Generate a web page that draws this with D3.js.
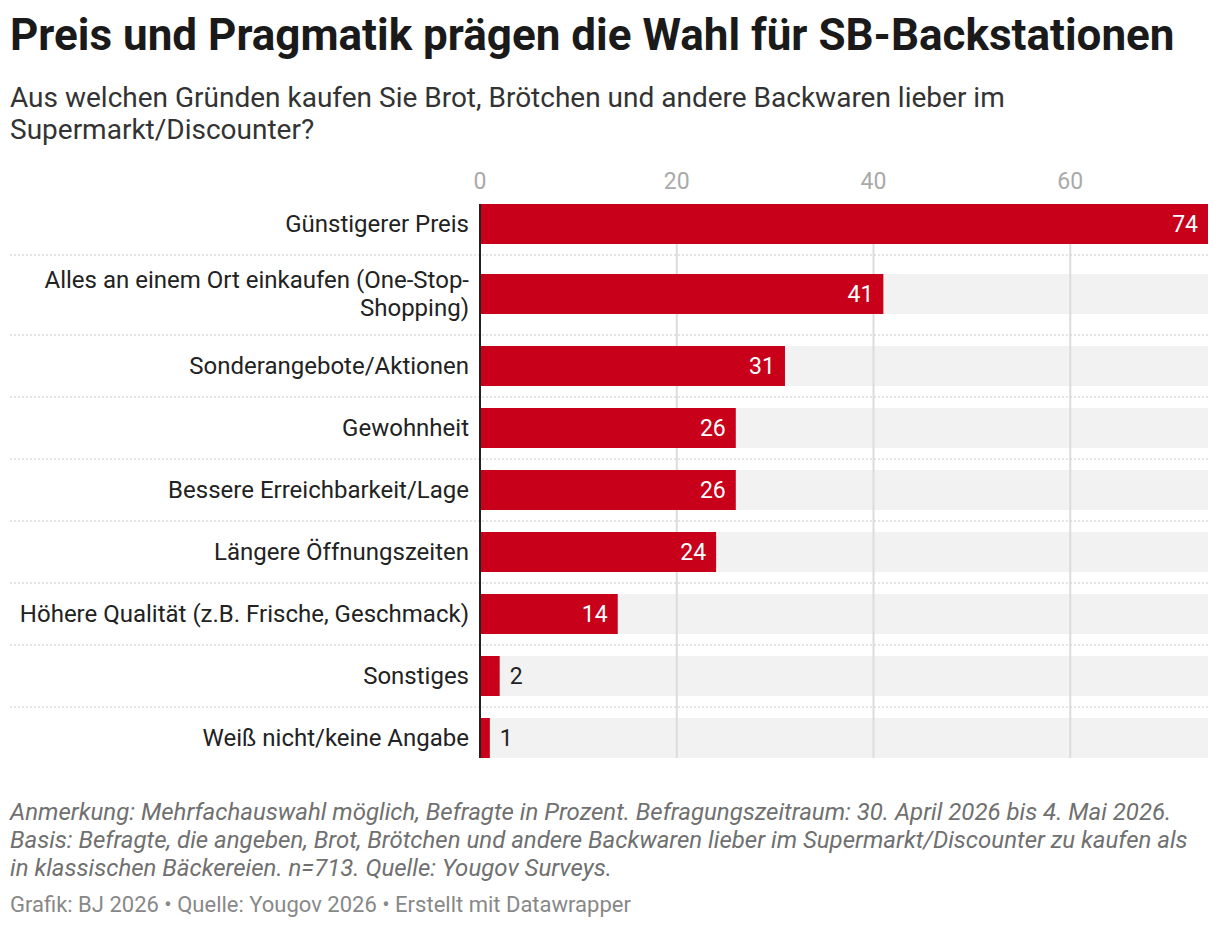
<html>
<head>
<script src="https://d3js.org/d3.v7.min.js"></script>
<style>
body { margin: 0; background: #fff; font-family: Roboto, sans-serif; }
</style>
</head>
<body>
<svg width="1220" height="928"></svg>
<script>
var categories = [
  ["Günstigerer Preis"],
  ["Alles an einem Ort einkaufen (One-Stop-", "Shopping)"],
  ["Sonderangebote/Aktionen"],
  ["Gewohnheit"],
  ["Bessere Erreichbarkeit/Lage"],
  ["Längere Öffnungszeiten"],
  ["Höhere Qualität (z.B. Frische, Geschmack)"],
  ["Sonstiges"],
  ["Weiß nicht/keine Angabe"]
];
var values = [74, 41, 31, 26, 26, 24, 14, 2, 1];
var ticks = [0, 20, 40, 60];

var svg = d3.select("svg");
var x = d3.scaleLinear().domain([0, 74]).range([480, 1208]);

// bar tops, two-line rows get extra room
var tops = [];
var t = 204;
categories.forEach(function(c, i) {
  if (i > 0) t += 62 + (c.length > 1 ? 8 : 0) + (categories[i-1].length > 1 ? 10 : 0);
  tops.push(t);
});
var bh = 40;

svg.append("text").attr("x", 10).attr("y", 50).attr("font-size", 44).attr("font-weight", 700)
  .attr("fill", "#1a1a1a").text("Preis und Pragmatik prägen die Wahl für SB-Backstationen");
svg.append("text").attr("x", 10).attr("y", 107).attr("font-size", 28).attr("fill", "#333")
  .text("Aus welchen Gründen kaufen Sie Brot, Brötchen und andere Backwaren lieber im");
svg.append("text").attr("x", 10).attr("y", 139).attr("font-size", 28).attr("fill", "#333")
  .text("Supermarkt/Discounter?");

// background bars
svg.selectAll("rect.bg").data(values).enter().append("rect").attr("class", "bg")
  .attr("x", x(0)).attr("y", (d, i) => tops[i]).attr("width", x(74) - x(0)).attr("height", bh)
  .attr("fill", "#f2f2f2");

// grid
svg.selectAll("line.grid").data(ticks.slice(1)).enter().append("line")
  .attr("x1", d => x(d)).attr("x2", d => x(d)).attr("y1", 204).attr("y2", tops[8] + bh)
  .attr("stroke", "#dcdcdc").attr("stroke-width", 2);

svg.selectAll("text.tick").data(ticks).enter().append("text")
  .attr("x", d => x(d)).attr("y", 189).attr("text-anchor", "middle")
  .attr("font-size", 23).attr("fill", "#aaa").text(d => d);

// separators
svg.selectAll("line.sep").data(tops.slice(1)).enter().append("line")
  .attr("x1", 10).attr("x2", 1208)
  .attr("y1", (d, i) => d - (categories[i+1].length > 1 ? 19 : 11))
  .attr("y2", (d, i) => d - (categories[i+1].length > 1 ? 19 : 11))
  .attr("stroke", "#ccc").attr("stroke-dasharray", "2,2");

svg.selectAll("rect.bar").data(values).enter().append("rect")
  .attr("x", x(0)).attr("y", (d, i) => tops[i]).attr("width", d => x(d) - x(0)).attr("height", bh)
  .attr("fill", "#c8001a");

svg.append("line").attr("x1", x(0)).attr("x2", x(0)).attr("y1", 204).attr("y2", tops[8] + bh)
  .attr("stroke", "#222").attr("stroke-width", 2);

// labels
categories.forEach(function(c, i) {
  var cy = tops[i] + bh / 2;
  c.forEach(function(line, j) {
    svg.append("text").attr("x", 469).attr("y", cy + 8 + (j - (c.length - 1) / 2) * 28)
      .attr("text-anchor", "end").attr("font-size", 24).attr("fill", "#222").text(line);
  });
});

svg.selectAll("text.val").data(values).enter().append("text")
  .attr("x", d => d > 5 ? x(d) - 10 : x(d) + 10)
  .attr("y", (d, i) => tops[i] + bh / 2 + 8)
  .attr("text-anchor", d => d > 5 ? "end" : "start")
  .attr("font-size", 23).attr("fill", d => d > 5 ? "#fff" : "#222").text(d => d);

var notes = [
  "Anmerkung: Mehrfachauswahl möglich, Befragte in Prozent. Befragungszeitraum: 30. April 2026 bis 4. Mai 2026.",
  "Basis: Befragte, die angeben, Brot, Brötchen und andere Backwaren lieber im Supermarkt/Discounter zu kaufen als",
  "in klassischen Bäckereien. n=713. Quelle: Yougov Surveys."
];
svg.selectAll("text.note").data(notes).enter().append("text")
  .attr("x", 10).attr("y", (d, i) => 820 + i * 28).attr("font-size", 24)
  .attr("font-style", "italic").attr("fill", "#707070").text(d => d);
svg.append("text").attr("x", 10).attr("y", 912).attr("font-size", 22).attr("fill", "#888")
  .text("Grafik: BJ 2026 • Quelle: Yougov 2026 • Erstellt mit Datawrapper");
</script>
</body>
</html>
